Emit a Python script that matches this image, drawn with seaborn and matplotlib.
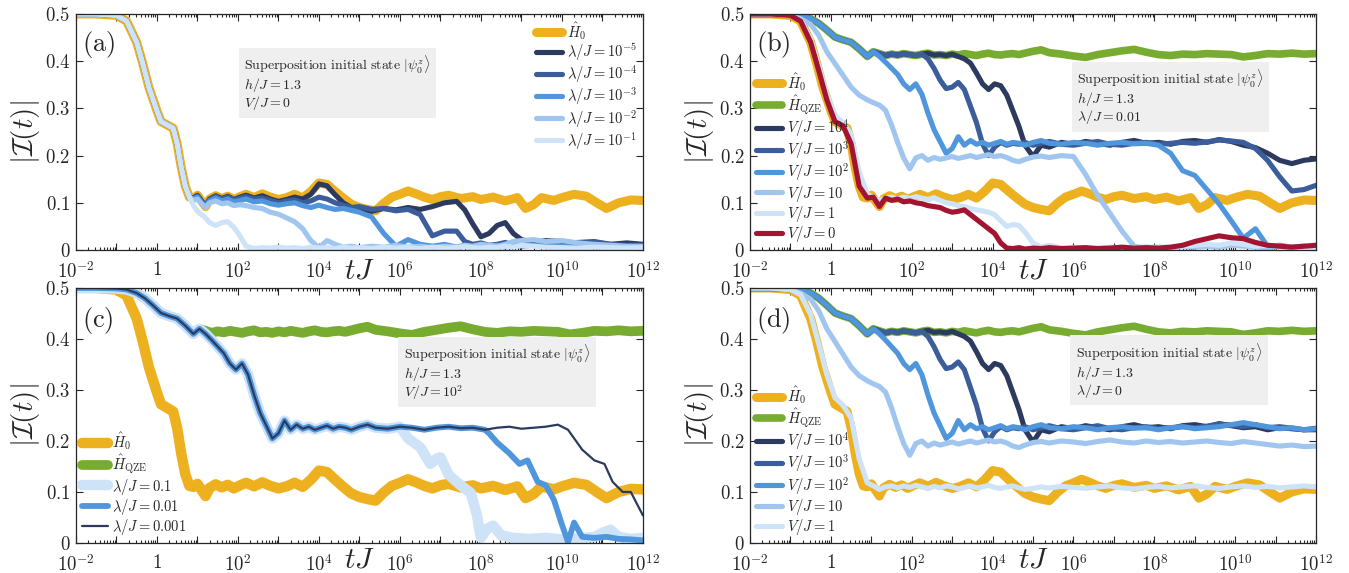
import numpy as np
import matplotlib
matplotlib.use("Agg")
import matplotlib.pyplot as plt
import matplotlib.transforms as mtransforms
from matplotlib.ticker import LogLocator, FuncFormatter, NullFormatter
import seaborn as sns

# ---- data, x values are log10(tJ) ----
# free Hamiltonian H0 (same in all four panels)
H0_X = [-2, -1.5, -1.0, -0.75, -0.5, -0.35, -0.2, 0.0, 0.1, 0.25, 0.4, 0.5, 0.6, 0.7, 0.8,
        0.9, 1.0, 1.1, 1.2, 1.3, 1.45, 1.6, 1.75, 1.9, 2.05, 2.2, 2.4, 2.6, 2.8, 3.0,
        3.2, 3.4, 3.6, 3.8, 4.0, 4.2, 4.4, 4.6, 4.8, 5.0, 5.2, 5.4, 5.6, 5.8, 6.0,
        6.2, 6.4, 6.6, 6.8, 7.0, 7.2, 7.5, 7.8, 8.0, 8.3, 8.6, 8.9, 9.1, 9.3, 9.5,
        9.8, 10.0, 10.3, 10.6, 10.9, 11.1, 11.4, 11.7, 12.0]
H0_Y = [0.5, 0.5, 0.497, 0.485, 0.44, 0.395, 0.345, 0.295, 0.272, 0.265, 0.258, 0.225, 0.175, 0.135, 0.112,
        0.11, 0.116, 0.104, 0.092, 0.108, 0.115, 0.109, 0.114, 0.107, 0.113, 0.118, 0.111, 0.119, 0.112, 0.107,
        0.111, 0.118, 0.11, 0.124, 0.142, 0.139, 0.124, 0.11, 0.097, 0.09, 0.086, 0.083, 0.099, 0.112, 0.118,
        0.125, 0.119, 0.112, 0.107, 0.113, 0.116, 0.109, 0.113, 0.107, 0.112, 0.104, 0.111, 0.088, 0.096, 0.111,
        0.105, 0.111, 0.118, 0.114, 0.098, 0.088, 0.1, 0.106, 0.105]

# panel (a): lambda curves, they follow H0 up to log t = 0.8
A_T = [0.9, 1.0, 1.1, 1.2, 1.3, 1.45, 1.6, 1.75, 1.9, 2.05,
       2.2, 2.4, 2.6, 2.8, 3.0, 3.2, 3.4, 3.6, 3.8, 4.0,
       4.2, 4.4, 4.6, 4.8, 5.0, 5.3, 5.6, 5.9, 6.2, 6.5,
       6.8, 7.1, 7.4, 7.6, 7.8, 8.0, 8.2, 8.4, 8.6, 8.8,
       9.0, 9.3, 9.6, 10.0, 10.4, 10.8, 11.2, 11.6, 12.0]
a_lam5 = [0.11, 0.116, 0.104, 0.093, 0.108, 0.115, 0.109, 0.114, 0.107, 0.112,
          0.116, 0.11, 0.115, 0.108, 0.103, 0.107, 0.112, 0.108, 0.118, 0.14,
          0.136, 0.117, 0.1, 0.09, 0.086, 0.082, 0.088, 0.085, 0.09, 0.086,
          0.092, 0.1, 0.103, 0.085, 0.055, 0.028, 0.035, 0.052, 0.058, 0.035,
          0.022, 0.016, 0.02, 0.018, 0.013, 0.016, 0.012, 0.015, 0.012]
a_lam4 = [0.11, 0.115, 0.104, 0.094, 0.107, 0.114, 0.108, 0.113, 0.106, 0.11,
          0.113, 0.108, 0.11, 0.105, 0.1, 0.104, 0.106, 0.1, 0.104, 0.112,
          0.108, 0.1, 0.095, 0.09, 0.092, 0.086, 0.088, 0.083, 0.086, 0.075,
          0.03, 0.04, 0.04, 0.018, 0.012, 0.015, 0.01, 0.012, 0.016, 0.01,
          0.012, 0.015, 0.01, 0.012, 0.016, 0.018, 0.012, 0.01, 0.01]
a_lam3 = [0.108, 0.112, 0.1, 0.092, 0.104, 0.11, 0.104, 0.108, 0.102, 0.105,
          0.108, 0.102, 0.104, 0.098, 0.095, 0.098, 0.1, 0.094, 0.09, 0.095,
          0.09, 0.086, 0.088, 0.084, 0.08, 0.07, 0.035, 0.008, 0.022, 0.012,
          0.008, 0.012, 0.006, 0.01, 0.005, 0.012, 0.008, 0.01, 0.006, 0.012,
          0.008, 0.01, 0.014, 0.008, 0.006, 0.01, 0.008, 0.006, 0.005]
a_lam2 = [0.105, 0.108, 0.098, 0.09, 0.1, 0.104, 0.098, 0.1, 0.094, 0.096,
          0.094, 0.09, 0.088, 0.08, 0.076, 0.068, 0.06, 0.045, 0.02, 0.005,
          0.02, 0.012, 0.006, 0.008, 0.005, 0.008, 0.006, 0.01, 0.006, 0.008,
          0.005, 0.008, 0.006, 0.01, 0.008, 0.012, 0.01, 0.008, 0.012, 0.018,
          0.02, 0.022, 0.018, 0.02, 0.015, 0.012, 0.01, 0.008, 0.008]
a_lam1 = [0.095, 0.082, 0.075, 0.068, 0.058, 0.052, 0.058, 0.06, 0.048, 0.03,
          0.008, 0.003, 0.005, 0.004, 0.006, 0.004, 0.005, 0.003, 0.006, 0.004,
          0.005, 0.003, 0.006, 0.004, 0.005, 0.003, 0.006, 0.004, 0.005, 0.003,
          0.006, 0.004, 0.005, 0.007, 0.005, 0.004, 0.006, 0.005, 0.008, 0.006,
          0.01, 0.008, 0.006, 0.005, 0.004, 0.006, 0.005, 0.004, 0.005]

# panels (b), (c), (d): common time grid
B_T = [-2, -1.5, -1.0, -0.75, -0.5, -0.3, -0.1, 0.1, 0.3, 0.5,
       0.7, 0.9, 1.05, 1.2, 1.35, 1.5, 1.65, 1.8, 1.95, 2.1,
       2.25, 2.4, 2.55, 2.7, 2.85, 3.0, 3.15, 3.3, 3.45, 3.6,
       3.75, 3.9, 4.05, 4.2, 4.35, 4.5, 4.65, 4.8, 5.0, 5.2,
       5.4, 5.7, 6.0, 6.3, 6.6, 6.9, 7.2, 7.5, 7.8, 8.1,
       8.4, 8.7, 9.0, 9.3, 9.6, 9.9, 10.2, 10.5, 10.8, 11.1,
       11.4, 11.7, 12.0]
QZE_Y = [0.5, 0.5, 0.499, 0.497, 0.49, 0.48, 0.466, 0.451, 0.445, 0.44,
         0.426, 0.41, 0.42, 0.416, 0.412, 0.415, 0.413, 0.416, 0.414, 0.412,
         0.415, 0.417, 0.413, 0.414, 0.412, 0.415, 0.413, 0.416, 0.414, 0.412,
         0.415, 0.417, 0.414, 0.413, 0.415, 0.416, 0.414, 0.417, 0.421, 0.424,
         0.418, 0.415, 0.411, 0.408, 0.414, 0.418, 0.422, 0.425, 0.419, 0.414,
         0.412, 0.415, 0.414, 0.416, 0.415, 0.414, 0.409, 0.412, 0.416, 0.415,
         0.417, 0.415, 0.416]

# panel (d), lambda/J = 0
d_v4 = QZE_Y[:26] + [0.41, 0.405, 0.396, 0.375, 0.352, 0.34, 0.352, 0.348, 0.328, 0.295,
                     0.262, 0.222, 0.198, 0.222, 0.218, 0.228, 0.224, 0.23, 0.226, 0.222,
                     0.228, 0.232, 0.226, 0.228, 0.224, 0.23, 0.232, 0.228, 0.234, 0.23,
                     0.226, 0.228, 0.222, 0.226, 0.224, 0.222, 0.222]
d_v3 = QZE_Y[:21] + [0.405, 0.385, 0.36, 0.342, 0.345, 0.355, 0.34, 0.305, 0.27,
                     0.225, 0.2, 0.218, 0.228, 0.222, 0.226, 0.224, 0.228, 0.222, 0.226,
                     0.23, 0.224, 0.222, 0.226, 0.23, 0.224, 0.222, 0.226, 0.228, 0.224,
                     0.226, 0.228, 0.226, 0.229, 0.233, 0.231, 0.228, 0.232, 0.226, 0.228,
                     0.225, 0.222, 0.225]
d_v2 = QZE_Y[:13] + [0.41, 0.398, 0.385, 0.372, 0.352, 0.34, 0.352,
                     0.33, 0.29, 0.255, 0.23, 0.205, 0.215, 0.24, 0.222, 0.232, 0.224,
                     0.228, 0.222, 0.226, 0.23, 0.224, 0.228, 0.226, 0.222, 0.228, 0.232,
                     0.226, 0.224, 0.228, 0.226, 0.222, 0.226, 0.228, 0.225, 0.226, 0.222,
                     0.226, 0.228, 0.224, 0.226, 0.228, 0.232, 0.236, 0.232, 0.228, 0.224,
                     0.226, 0.222, 0.224]
d_v1 = [0.5, 0.5, 0.497, 0.49, 0.478, 0.455, 0.42, 0.395, 0.37, 0.345,
        0.328, 0.318, 0.312, 0.307, 0.296, 0.265, 0.228, 0.195, 0.172, 0.195,
        0.2, 0.19, 0.196, 0.192, 0.195, 0.198, 0.194, 0.197, 0.2, 0.196,
        0.199, 0.202, 0.198, 0.2, 0.196, 0.19, 0.187, 0.192, 0.197, 0.199,
        0.196, 0.2, 0.198, 0.195, 0.199, 0.202, 0.198, 0.196, 0.2, 0.197,
        0.199, 0.196, 0.198, 0.2, 0.197, 0.195, 0.199, 0.196, 0.193, 0.19,
        0.192, 0.189, 0.19]
d_v0 = [0.5, 0.5, 0.497, 0.487, 0.448, 0.39, 0.33, 0.285, 0.27, 0.245,
        0.165, 0.118, 0.112, 0.105, 0.11, 0.112, 0.108, 0.112, 0.109, 0.113,
        0.11, 0.107, 0.111, 0.108, 0.112, 0.11, 0.106, 0.109, 0.112, 0.108,
        0.11, 0.113, 0.109, 0.107, 0.11, 0.112, 0.108, 0.105, 0.107, 0.11,
        0.108, 0.111, 0.109, 0.107, 0.11, 0.112, 0.108, 0.106, 0.109, 0.111,
        0.108, 0.11, 0.112, 0.109, 0.107, 0.11, 0.112, 0.109, 0.111, 0.108,
        0.11, 0.112, 0.11]

# panel (b), lambda/J = 0.01: same as (d) until the late decay
b_v4 = d_v4[:56] + [0.222, 0.217, 0.205, 0.19, 0.183, 0.19, 0.193]
b_v3 = d_v3[:57] + [0.215, 0.19, 0.155, 0.125, 0.128, 0.137]
b_v2 = d_v2[:50] + [0.205, 0.168, 0.158, 0.128, 0.098, 0.062, 0.025, 0.045, 0.008, 0.01,
                    0.006, 0.008, 0.006]
b_v1 = d_v1[:43] + [0.16, 0.115, 0.078, 0.04, 0.008, 0.004, 0.006, 0.005, 0.007, 0.006,
                    0.008, 0.006, 0.01, 0.008, 0.006, 0.005, 0.007, 0.006, 0.005, 0.005]
b_v0 = d_v0[:23] + [0.105, 0.1, 0.098, 0.094, 0.092, 0.088, 0.085,
                    0.083, 0.08, 0.075, 0.062, 0.05, 0.054, 0.052, 0.038, 0.015, 0.006,
                    0.01, 0.004, 0.005, 0.003, 0.004, 0.006, 0.004, 0.005, 0.007, 0.005,
                    0.006, 0.008, 0.01, 0.012, 0.01, 0.015, 0.012, 0.008, 0.01, 0.008,
                    0.006, 0.005, 0.005]
b_vz = [0.5, 0.5, 0.497, 0.485, 0.44, 0.38, 0.318, 0.272, 0.263, 0.225,
        0.135, 0.11, 0.112, 0.092, 0.11, 0.105, 0.108, 0.102, 0.104, 0.1,
        0.098, 0.094, 0.092, 0.09, 0.084, 0.08, 0.082, 0.085, 0.075, 0.065,
        0.055, 0.045, 0.035, 0.015, 0.004, 0.003, 0.005, 0.002, 0.004, 0.003,
        0.005, 0.003, 0.004, 0.005, 0.003, 0.004, 0.006, 0.004, 0.005, 0.004,
        0.006, 0.01, 0.018, 0.024, 0.03, 0.026, 0.024, 0.016, 0.01, 0.008,
        0.006, 0.008, 0.01]

# panel (c), V/J = 10^2: lambda curves leave the V/J=10^2 plateau
c_l1_tx = [6.2, 6.5, 6.75, 6.9, 7.0, 7.2, 7.5, 7.75, 7.9, 8.0, 8.15, 8.3,
           8.5, 8.8, 9.2, 9.6, 10.0, 10.4, 10.8, 11.0, 11.2, 11.4, 11.7, 12.0]
c_l1_ty = [0.205, 0.188, 0.155, 0.165, 0.168, 0.134, 0.113, 0.098, 0.055, 0.01, 0.028, 0.034,
           0.015, 0.01, 0.008, 0.01, 0.007, 0.009, 0.012, 0.02, 0.026, 0.012, 0.008, 0.01]
c_l2_tx = [8.1, 8.2, 8.4, 8.7, 8.95, 9.15, 9.4, 9.6, 9.8, 10.0, 10.15, 10.3,
           10.5, 10.8, 11.1, 11.4, 11.7, 12.0]
c_l2_ty = [0.222, 0.215, 0.197, 0.176, 0.155, 0.162, 0.12, 0.113, 0.085, 0.036, 0.002, 0.04,
           0.012, 0.01, 0.012, 0.008, 0.007, 0.005]
c_l3_tx = [10.15, 10.5, 10.8, 11.05, 11.25, 11.5, 11.7, 12.0]
c_l3_ty = [0.222, 0.183, 0.162, 0.155, 0.12, 0.1, 0.1, 0.054]

# ---- style ----
ORANGE = "#EDB120"
GREEN = "#77AC30"
RED = "#A2142F"
BLUES = ["#2B3A5E", "#3B5D9C", "#5096DC", "#A0C6F0", "#CFE3F8"]

sns.set_theme(style="ticks")
plt.rcParams["font.family"] = ["DejaVu Serif"]
plt.rcParams["mathtext.fontset"] = "cm"

BOX = "$\\mathrm{Superposition\\ initial\\ state}\\ |\\psi_0^z\\rangle$\n$h/J=1.3$\n"


def draw(ax, xs, ys, color, lw, label):
    sns.lineplot(x=10.0 ** np.asarray(xs, dtype=float), y=ys, ax=ax, color=color,
                 linewidth=lw, label=label, estimator=None, sort=False)


def xfmt(v, pos):
    e = int(round(np.log10(v)))
    if e % 2:
        return ""
    return "$1$" if e == 0 else "$10^{%d}$" % e


def style(ax, letter, box_xy, box_last, legend_loc, tj_y):
    ax.set_xscale("log")
    ax.set_xlim(1e-2, 1e12)
    ax.set_ylim(0, 0.5)
    ax.xaxis.set_major_locator(LogLocator(base=10, numticks=30))
    ax.xaxis.set_minor_locator(LogLocator(base=10, subs=np.arange(2, 10) * 1.0, numticks=30))
    ax.xaxis.set_major_formatter(FuncFormatter(xfmt))
    ax.xaxis.set_minor_formatter(NullFormatter())
    ax.set_yticks([0, 0.1, 0.2, 0.3, 0.4, 0.5])
    ax.yaxis.set_major_formatter(FuncFormatter(lambda v, p: "$%g$" % round(v, 2)))
    ax.tick_params(which="both", direction="in", top=True, right=True, width=0.8,
                   colors="#262626", labelsize=13.5, labelcolor="#262626")
    ax.tick_params(which="major", length=5)
    ax.tick_params(axis="x", which="major", pad=8)
    ax.tick_params(axis="y", which="major", pad=4)
    ax.tick_params(which="minor", length=2.5)
    for sp in ax.spines.values():
        sp.set_color("#262626")
        sp.set_linewidth(0.9)
    ax.set_xlabel("")
    ax.set_ylabel(r"$|\mathcal{I}(t)|$", fontsize=21, labelpad=2)
    trans = mtransforms.blended_transform_factory(ax.transData, ax.transAxes)
    ax.text(1e5, tj_y, r"$tJ$", transform=trans, fontsize=21, ha="center", va="center")
    ax.text(0.011, 0.935, r"$\mathrm{(%s)}$" % letter, transform=ax.transAxes,
            fontsize=19, ha="left", va="top")
    ax.text(box_xy[0], box_xy[1], BOX + box_last, transform=ax.transAxes, fontsize=10,
            ha="left", va="top", linespacing=1.0,
            bbox=dict(boxstyle="square,pad=0.4", fc="#efefef", ec="none"))
    ax.legend(loc=legend_loc, frameon=False, fontsize=10.5, handlelength=1.8,
              handletextpad=0.3, labelspacing=0.02, borderaxespad=0.2, borderpad=0.2)


fig = plt.figure(figsize=(13.49, 5.73), dpi=100)
ax_a = fig.add_axes([0.0563, 0.5637, 0.4203, 0.4119])
ax_b = fig.add_axes([0.556, 0.5637, 0.4196, 0.4119])
ax_c = fig.add_axes([0.0563, 0.0524, 0.4203, 0.445])
ax_d = fig.add_axes([0.556, 0.0524, 0.4196, 0.445])

# (a)
draw(ax_a, H0_X, H0_Y, ORANGE, 6.5, r"$\hat{H}_0$")
a_x = H0_X[:15] + A_T
for ys, col, p in zip([a_lam5, a_lam4, a_lam3, a_lam2, a_lam1], BLUES, [-5, -4, -3, -2, -1]):
    draw(ax_a, a_x, H0_Y[:15] + ys, col, 3.7, r"$\lambda/J=10^{%d}$" % p)
style(ax_a, "a", (0.297, 0.83), "$V/J=0$", "upper right", -0.085)

# (b)
v_labels = [r"$V/J=10^4$", r"$V/J=10^3$", r"$V/J=10^2$", r"$V/J=10$", r"$V/J=1$"]
draw(ax_b, H0_X, H0_Y, ORANGE, 6.5, r"$\hat{H}_0$")
draw(ax_b, B_T, QZE_Y, GREEN, 5.5, r"$\hat{H}_{\rm QZE}$")
for ys, col, lab in zip([b_v4, b_v3, b_v2, b_v1, b_v0], BLUES, v_labels):
    draw(ax_b, B_T, ys, col, 3.7, lab)
draw(ax_b, B_T, b_vz, RED, 3.7, r"$V/J=0$")
style(ax_b, "b", (0.578, 0.77), r"$\lambda/J=0.01$", "lower left", -0.085)

# (c)
draw(ax_c, H0_X, H0_Y, ORANGE, 7.5, r"$\hat{H}_0$")
draw(ax_c, B_T, QZE_Y, GREEN, 7.0, r"$\hat{H}_{\rm QZE}$")
draw(ax_c, B_T[:43] + c_l1_tx, d_v2[:43] + c_l1_ty, BLUES[4], 7.5, r"$\lambda/J=0.1$")
draw(ax_c, B_T[:49] + c_l2_tx, d_v2[:49] + c_l2_ty, BLUES[2], 4.2, r"$\lambda/J=0.01$")
draw(ax_c, B_T[:56] + c_l3_tx, d_v2[:56] + c_l3_ty, BLUES[0], 1.6, r"$\lambda/J=0.001$")
style(ax_c, "c", (0.578, 0.785), r"$V/J=10^2$", "lower left", -0.066)

# (d)
draw(ax_d, H0_X, H0_Y, ORANGE, 6.5, r"$\hat{H}_0$")
draw(ax_d, B_T, QZE_Y, GREEN, 5.5, r"$\hat{H}_{\rm QZE}$")
for ys, col, lab in zip([d_v4, d_v3, d_v2, d_v1, d_v0], BLUES, v_labels):
    draw(ax_d, B_T, ys, col, 3.7, lab)
style(ax_d, "d", (0.575, 0.79), r"$\lambda/J=0$", "lower left", -0.066)

fig.savefig("out.png", dpi=100)
